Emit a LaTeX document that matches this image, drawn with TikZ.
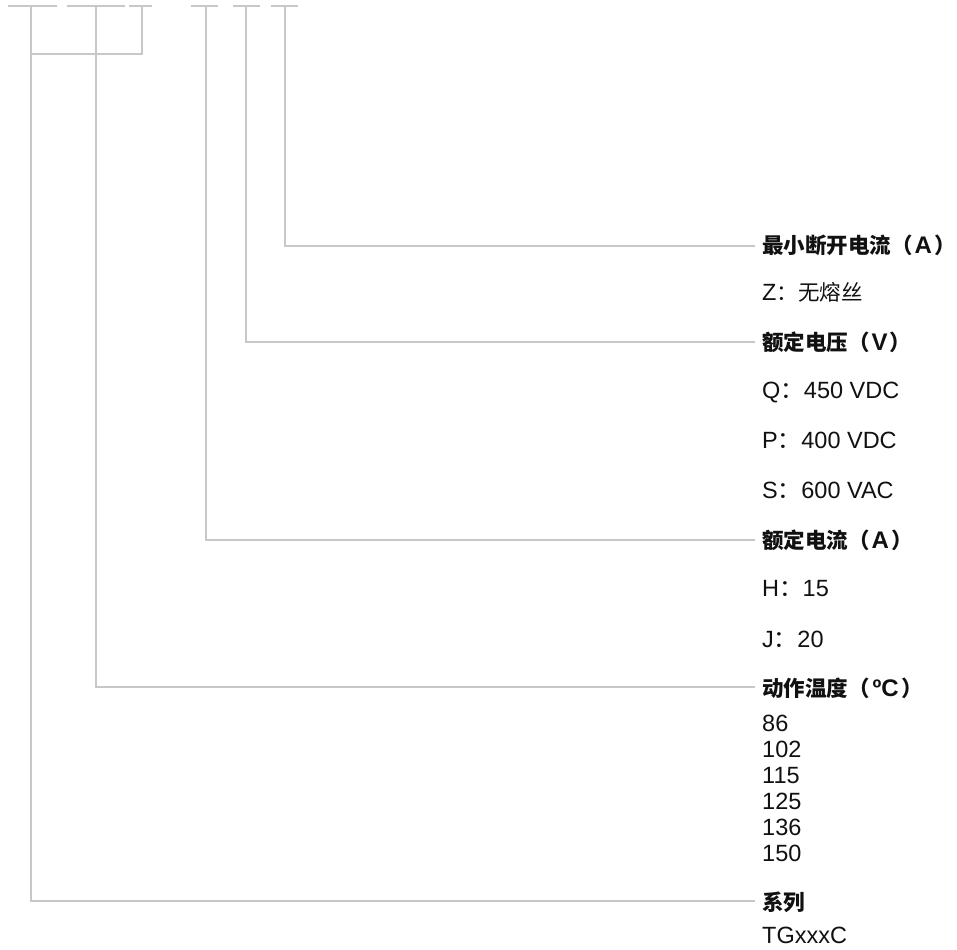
\documentclass[tikz,border=0pt]{standalone}
\usepackage{fontspec}
\setmainfont{Liberation Sans}
\newfontfamily\cjk{Noto Sans CJK SC}
\newcommand\lat[1]{{\fontspec{Liberation Sans}\bfseries\fontsize{24}{26}\selectfont #1}}
\definecolor{linegray}{HTML}{C8C8C8}
\definecolor{txt}{HTML}{111111}
\tikzset{
  conn/.style={draw=linegray, line width=1.6pt},
  head/.style={anchor=base west, inner sep=0pt, text=txt, font=\cjk\bfseries\fontsize{21.5}{25}\selectfont},
  item/.style={anchor=base west, inner sep=0pt, text=txt, font=\fontsize{23.5}{26}\selectfont},
}
\begin{document}
\begin{tikzpicture}[x=1pt,y=-1pt]
\useasboundingbox (0,0) rectangle (957,949);
% top ticks
\draw[conn] (8,6) -- (57,6);
\draw[conn] (67,6) -- (125,6);
\draw[conn] (129,6) -- (152,6);
\draw[conn] (191,6) -- (218,6);
\draw[conn] (233,6) -- (260,6);
\draw[conn] (271,6) -- (298,6);
\coordinate (t1) at (31,6);
\coordinate (t2) at (96,6);
\coordinate (t3) at (142,6);
\coordinate (t4) at (206,6);
\coordinate (t5) at (246,6);
\coordinate (t6) at (285,6);
% bracket
\coordinate (b3) at (142,54);
\coordinate (b1) at (31,54);
\draw[conn] (t3) -- (b3) -- (b1);
% line ends
\coordinate (e1) at (755,246);
\coordinate (e2) at (755,342);
\coordinate (e3) at (755,540);
\coordinate (e4) at (755,687);
\coordinate (e5) at (755,901);
\draw[conn] (t6) |- (e1);
\draw[conn] (t5) |- (e2);
\draw[conn] (t4) |- (e3);
\draw[conn] (t2) |- (e4);
\draw[conn] (t1) |- (e5);
% texts
\node[head] (h1) at (762,254) {最小断开电流（\kern2pt\lat{A}\kern2pt）};
\node[item] (z) at (762,301) {Z{\cjk\fontsize{21.5}{25}\selectfont ：无熔丝}};
\node[head] (h2) at (762,350) {额定电压（\kern2pt\lat{V}\kern2pt）};
\node[item] (q) at (762,398) {Q{\cjk ：}450 VDC};
\node[item] (p) at (762,448) {P{\cjk ：}400 VDC};
\node[item] (s) at (762,498) {S{\cjk ：}600 VAC};
\node[head] (h3) at (762,548) {额定电流（\kern2pt\lat{A}\kern2pt）};
\node[item] (hh) at (762,596) {H{\cjk ：}15};
\node[item] (jj) at (762,647) {J{\cjk ：}20};
\node[head] (h4) at (762,696) {动作温度（\kern3pt\lat{ºC}\kern3pt）};
\node[item] (n1) at (762,731) {86};
\node[item] (n2) at (762,757) {102};
\node[item] (n3) at (762,783) {115};
\node[item] (n4) at (762,809) {125};
\node[item] (n5) at (762,835) {136};
\node[item] (n6) at (762,861) {150};
\node[head] (h5) at (762,910) {系列};
\node[item] (tg) at (762,943) {TGxxxC};
\end{tikzpicture}
\end{document}
